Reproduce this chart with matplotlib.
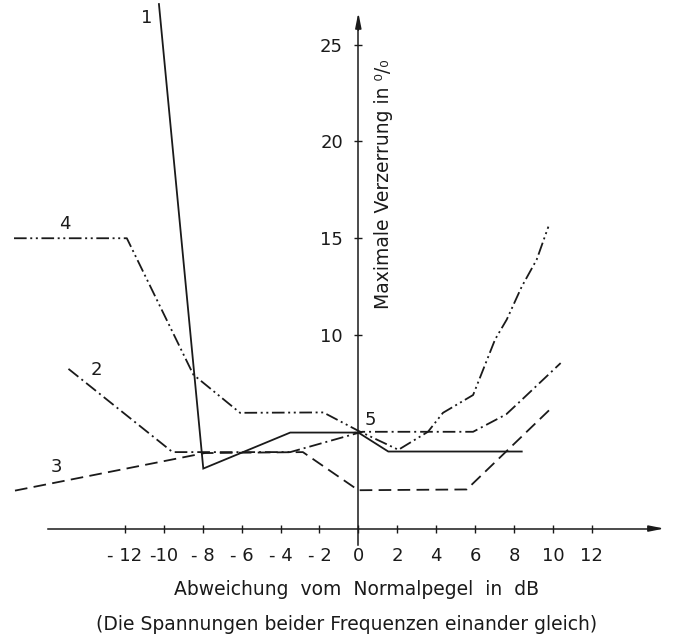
import numpy as np
import matplotlib
matplotlib.use("Agg")
import matplotlib.pyplot as plt

# curve data (dB deviation, max distortion in %)
c1_x = [-10.25, -7.97, -3.5, 0.0, 1.54, 8.4]
c1_y = [27.1, 3.1, 4.96, 4.96, 3.98, 3.98]

c2_x = [-14.9, -9.55, -3.5, 0.2, 5.9, 7.6, 8.4, 10.4]
c2_y = [8.25, 3.95, 3.95, 5.0, 5.0, 5.9, 6.65, 8.55]

c3_x = [-17.65, -7.9, -2.85, 0.0, 5.57, 10.0]
c3_y = [1.96, 3.9, 3.95, 1.98, 2.02, 6.3]

c4_x = [-17.7, -11.9, -8.48, -6.08, -1.8, 0.0, 2.06, 3.58, 4.35, 5.9, 7.03, 7.63, 8.4, 9.17, 9.77]
c4_y = [15.0, 15.0, 7.95, 5.98, 6.0, 5.05, 4.07, 5.0, 5.98, 6.9, 9.77, 10.8, 12.5, 13.9, 15.6]

curve_names = ["1", "2", "3", "4", "5"]
name_x = [-10.9, -13.45, -15.5, -15.1, 0.6]
name_y = [26.4, 8.2, 3.2, 15.75, 5.6]

xticks = [-12, -10, -8, -6, -4, -2, 0, 2, 4, 6, 8, 10, 12]
xtick_labels = ["- 12", "-10", "- 8", "- 6", "- 4", "- 2", "0", "2", "4", "6", "8", "10", "12"]
yticks = [5, 10, 15, 20, 25]
ytick_labels = ["", "10", "15", "20", "25"]

ink = "#1a1a1a"
plt.rcParams["font.family"] = ["DejaVu Sans"]

fig = plt.figure(figsize=(6.76, 6.41), dpi=100)
ax = fig.add_axes([0, 0, 1, 1])
ax.set_xlim(-18.42, 16.33)
ax.set_ylim(-5.81, 27.31)

lw = 1.3
ax.plot(c1_x, c1_y, color=ink, lw=lw, solid_joinstyle="miter")
ax.plot(c2_x, c2_y, color=ink, lw=lw, linestyle=(0, (7, 2.2, 1.1, 2.2)))
ax.plot(c3_x, c3_y, color=ink, lw=lw, linestyle=(0, (7, 3.5)))
ax.plot(c4_x, c4_y, color=ink, lw=lw, linestyle=(0, (7, 2, 1.1, 2, 1.1, 2)))

for name, x, y in zip(curve_names, name_x, name_y):
    ax.text(x, y, name, fontsize=13, color=ink, ha="center", va="center")

# axes through the origin
for side in ["top", "right"]:
    ax.spines[side].set_visible(False)
ax.spines["left"].set_position(("data", 0))
ax.spines["bottom"].set_position(("data", 0))
ax.spines["left"].set_bounds(-0.85, 26.0)
ax.spines["bottom"].set_bounds(-15.97, 15.2)
for side in ["left", "bottom"]:
    ax.spines[side].set_color(ink)
    ax.spines[side].set_linewidth(1.1)

ax.annotate("", xy=(15.87, 0), xytext=(14.8, 0),
            arrowprops=dict(arrowstyle="-|>,head_length=0.9,head_width=0.18", color=ink, lw=1.1))
ax.annotate("", xy=(0, 26.8), xytext=(0, 25.6),
            arrowprops=dict(arrowstyle="-|>,head_length=0.9,head_width=0.18", color=ink, lw=1.1))

ax.set_xticks(xticks)
ax.set_xticklabels(xtick_labels)
ax.set_yticks(yticks)
ax.set_yticklabels(ytick_labels)
ax.tick_params(axis="both", direction="inout", length=6, width=1.0, colors=ink, labelsize=13)
ax.tick_params(axis="x", pad=10)
ax.tick_params(axis="y", pad=8)

ax.text(1.27, 17.8, "Maximale Verzerrung in ⁰/₀", rotation=90, fontsize=13.5,
        color=ink, ha="center", va="center")

fig.text(0.528, 0.080, "Abweichung  vom  Normalpegel  in  dB", fontsize=13.5,
         color=ink, ha="center", va="center")
fig.text(0.512, 0.025, "(Die Spannungen beider Frequenzen einander gleich)", fontsize=13.5,
         color=ink, ha="center", va="center")

fig.savefig("out.png", dpi=100, facecolor="white")
